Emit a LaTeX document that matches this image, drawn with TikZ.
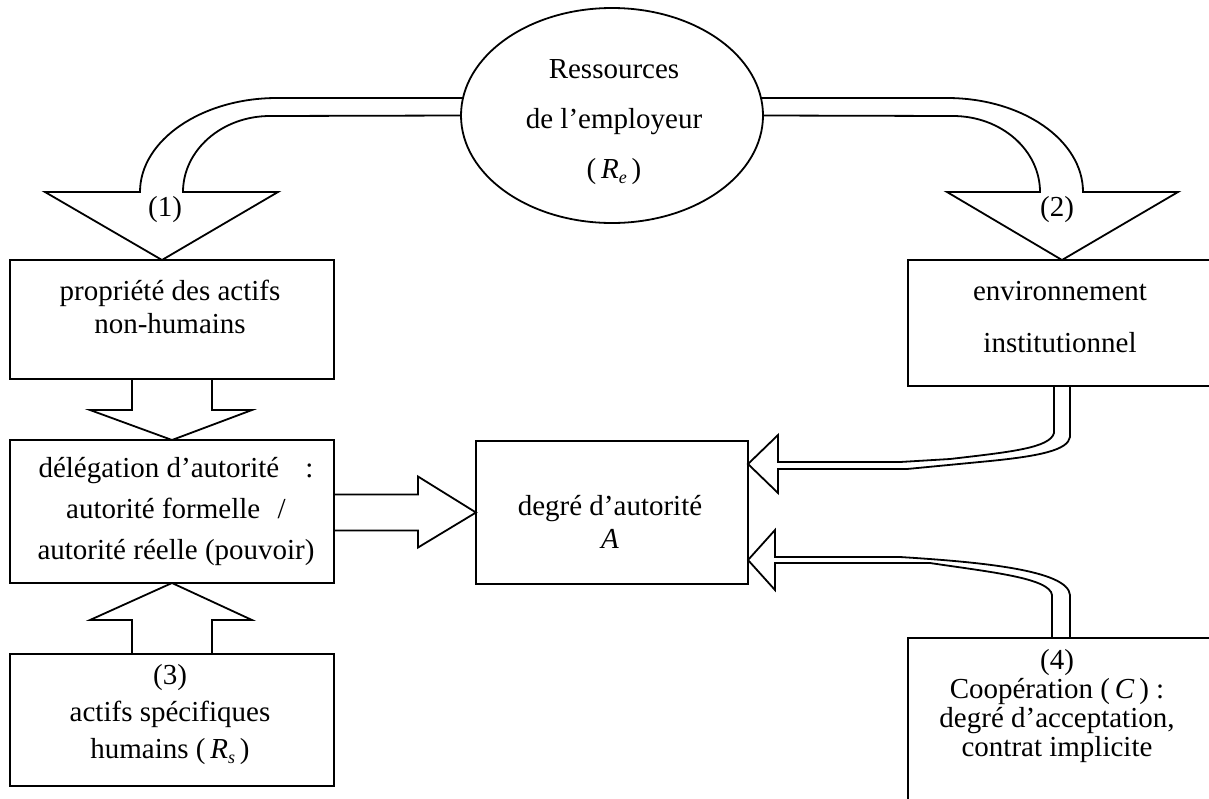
\documentclass[tikz,border=0pt]{standalone}
\usepackage{fontspec}
\setmainfont{Liberation Serif}
\usetikzlibrary{calc,shapes.geometric}
\tikzset{
  box/.style={draw, line width=0.9pt, rectangle, inner sep=0pt, outer sep=0pt},
  oval/.style={draw, line width=0.9pt, ellipse, inner sep=0pt, outer sep=0pt},
  blk/.style={draw, line width=0.9pt, line join=miter},
  txt/.style={align=center, inner sep=0pt},
}
\newcommand{\fs}[1]{\fontsize{14.5}{#1}\selectfont}
\newcommand{\sub}[1]{\raisebox{-0.35ex}{\fontsize{9}{9}\selectfont\textit{#1}}}
\begin{document}
\begin{tikzpicture}[x=0.5pt,y=-0.5pt]
\useasboundingbox (0,0) rectangle (1209,798);
\clip (0,0) rectangle (1209,798);
% shapes
\node[oval, minimum width=151pt, minimum height=107.5pt] (E) at (612,115.5) {};
\node[box, minimum width=162pt, minimum height=59.5pt] (b1) at (172,319.5) {};
\node[box, minimum width=162pt, minimum height=71.5pt] (b2) at (172,511.5) {};
\node[box, minimum width=136pt, minimum height=71.5pt] (b3) at (612,512.5) {};
\node[box, minimum width=162pt, minimum height=66pt] (b4) at (172,720) {};
\node[box, minimum width=156pt, minimum height=63pt] (b5) at (1064,323) {};
\node[box, minimum width=156pt, minimum height=91pt] (b6) at (1064,729) {};
% texts
\node[txt, font=\fs{25pt}] (tE) at (614,122) {Ressources\\de l’employeur\\(\,\textit{R}\sub{e}\,)};
\node[txt, font=\fs{16.5pt}] (t1) at (170,307) {propriété des actifs\\non-humains};
\node[txt, font=\fs{20.5pt}] (t2) at (176,511) {délégation d’autorité\hspace{0.9em}:\\autorité formelle\hspace{0.6em}/\\autorité réelle (pouvoir)};
\node[txt, font=\fs{16.5pt}] (t3) at (610,522) {degré d’autorité\\\textit{A}};
\node[txt, font=\fs{18.5pt}] (t4) at (170,715) {(3)\\actifs spécifiques\\humains (\,\textit{R}\sub{s}\,)};
\node[txt, font=\fs{26pt}] (t5) at (1060,317) {environnement\\institutionnel};
\node[txt, font=\fs{14.5pt}] (t6) at (1057,706) {(4)\\Coopération (\,\textit{C}\,) :\\degré d’acceptation,\\contrat implicite};
% curved arrow (1)
\draw[blk] (E.west) -- (270,116) .. controls (222,116) and (183,150) .. (183,192)
  -- (278,192) -- ($(b1.north)+(-10,0)$) -- (45,192) -- (140,192)
  .. controls (140,140) and (202,98) .. (277,98) -- ($(E.west)+(2,-17.5)$);
\node[txt, font=\fs{14pt}] (l1) at (165,210) {(1)};
% curved arrow (2)
\draw[blk] ($(E.east)+(-2,-17.5)$) -- (947,98) .. controls (1022,98) and (1083,140) .. (1083,192)
  -- (1178,192) -- ($(b5.north)+(-2,0)$) -- (947,192) -- (1040,192)
  .. controls (1040,150) and (1001,116) .. (953,116) -- (E.east);
\node[txt, font=\fs{14pt}] (l2) at (1057,210) {(2)};
% block arrow b1 -> b2
\draw[blk] ($(b1.south)+(-40,0)$) -- ($(b1.south)+(-40,31)$) -- ($(b1.south)+(-82,31)$)
  -- (b2.north) -- ($(b1.south)+(80,31)$) -- ($(b1.south)+(40,31)$) -- ($(b1.south)+(40,0)$);
% block arrow b2 -> b3
\draw[blk] ($(b2.east)+(0,-17)$) -- ($(b2.east)+(84,-17)$) -- ($(b2.east)+(84,-35)$)
  -- (b3.west) -- ($(b2.east)+(84,36)$) -- ($(b2.east)+(84,19)$) -- ($(b2.east)+(0,19)$);
% block arrow b4 -> b2
\draw[blk] ($(b4.north)+(-40,0)$) -- ($(b4.north)+(-40,-34)$) -- ($(b4.north)+(-82,-34)$)
  -- (b2.south) -- ($(b4.north)+(80,-34)$) -- ($(b4.north)+(40,-34)$) -- ($(b4.north)+(40,0)$);
% double-line arrow b5 -> b3
\draw[blk] ($(b5.south)+(-10,0)$) -- (1054,433) .. controls (1050,448) and (1010,452) .. (950,459)
  -- (900,462) -- (778,462) -- (778,435) -- ($(b3.north east)+(0,23)$) -- (778,493) -- (778,469)
  -- (907,469) -- (990,461) .. controls (1040,456) and (1068,450) .. (1070,437) -- ($(b5.south)+(6,0)$);
% double-line arrow b6 -> b3
\draw[blk] ($(b6.north)+(-12,0)$) -- (1052,595) .. controls (1050,578) and (990,572) .. (930,563)
  -- (775,563) -- (775,590) -- ($(b3.south east)+(0,-24)$) -- (775,530) -- (775,557)
  -- (900,557) .. controls (980,562) and (1068,570) .. (1070,595) -- ($(b6.north)+(6,0)$);
\end{tikzpicture}
\end{document}
